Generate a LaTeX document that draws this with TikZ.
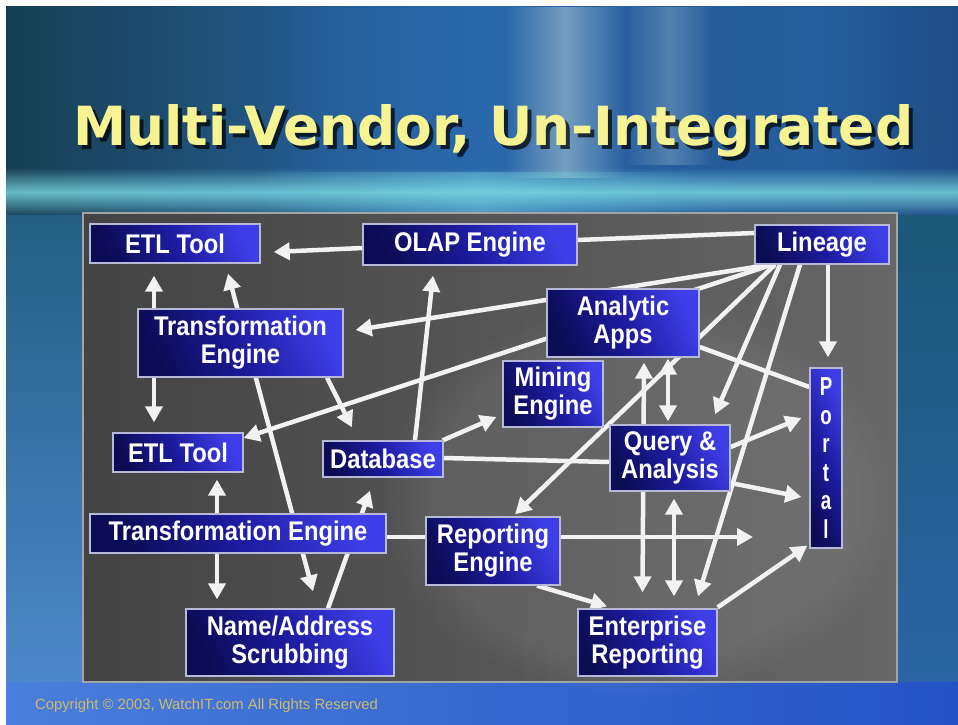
\documentclass[tikz,border=0pt]{standalone}
\usepackage{fontspec}
\usepackage{graphicx}
\setmainfont{Liberation Sans}
\newfontfamily\boxfont{Liberation Sans}[FakeStretch=0.88]
\newfontfamily\portalfont{Liberation Sans}[FakeStretch=0.72]
\newfontfamily\titlefont{DejaVu Sans}
\usetikzlibrary{arrows.meta,calc,fadings}
\tikzfading[name=vstreak, left color=transparent!100, right color=transparent!100, middle color=transparent!0]
\tikzfading[name=hband, top color=transparent!100, bottom color=transparent!100, middle color=transparent!0]
\pgfdeclarelayer{bg}
\pgfdeclarelayer{lines}
\pgfsetlayers{bg,lines,main}
\definecolor{bgBase}{HTML}{245A8A}
\definecolor{tealDark}{HTML}{173F52}
\definecolor{blueMid}{HTML}{2A68AC}
\definecolor{blueRight}{HTML}{1F4E86}
\definecolor{streakC}{HTML}{A8C4D0}
\definecolor{cyanC}{HTML}{7CDCE4}
\definecolor{leftTop}{HTML}{235E82}
\definecolor{leftBot}{HTML}{4E88CC}
\definecolor{rightTop}{HTML}{1C5878}
\definecolor{rightBot}{HTML}{2A64A4}
\definecolor{botL}{HTML}{4A7EDC}
\definecolor{botR}{HTML}{2452C4}
\definecolor{panelL}{HTML}{434343}
\definecolor{panelR}{HTML}{676767}
\definecolor{panelEdge}{HTML}{A4A4A4}
\definecolor{boxHi}{HTML}{3E3EE8}
\definecolor{boxMid}{HTML}{1C1CA0}
\definecolor{boxLo}{HTML}{0C0C56}
\definecolor{boxEdge}{HTML}{B8B8D8}
\definecolor{lineW}{HTML}{F2F2F2}
\definecolor{titleY}{HTML}{F8F392}
\definecolor{copyC}{HTML}{CDBB6E}
\begin{document}
\begin{tikzpicture}[x=1pt,y=-1pt,
  bluebox/.style={draw=boxEdge, line width=1.3pt, top color=boxHi, bottom color=boxLo,
    middle color=boxMid, shading angle=-65, text=white,
    font=\boxfont\bfseries\fontsize{27pt}{28pt}\selectfont, align=center, inner sep=0pt},
  ln/.style={line width=4.5pt, draw=lineW},
  arr/.style={ln, -{Triangle[length=16pt,width=17pt]}},
  dbl/.style={ln, {Triangle[length=16pt,width=17pt]}-{Triangle[length=16pt,width=17pt]}}]
\useasboundingbox (0,0) rectangle (958,725);
\begin{pgfonlayer}{bg}
\fill[white] (0,0) rectangle (958,725);
\fill[bgBase] (6,7) rectangle (958,725);
\shade[left color=tealDark, right color=blueMid] (6,7) rectangle (480,215);
\shade[left color=blueMid, right color=blueRight] (480,7) rectangle (958,215);
\fill[blueMid, opacity=.6, path fading=vstreak] (260,7) rectangle (540,180);
\fill[streakC, opacity=.6, path fading=vstreak] (505,7) rectangle (625,178);
\fill[streakC, opacity=.35, path fading=vstreak] (625,7) rectangle (715,165);
\fill[blueMid, opacity=.5, path fading=vstreak] (700,7) rectangle (930,180);
\fill[cyanC, opacity=.8, path fading=hband] (6,168) rectangle (958,216);
\fill[cyanC, opacity=.35, path fading=vstreak] (250,172) rectangle (700,212);
\shade[top color=leftTop, bottom color=leftBot] (6,215) rectangle (83,682);
\shade[top color=rightTop, bottom color=rightBot] (897,215) rectangle (958,682);
\shade[left color=botL, right color=botR] (6,682) rectangle (958,725);
\shade[left color=panelL, right color=panelR] (83,213) rectangle (897,682);
\fill[white, opacity=.07, path fading=circle with fuzzy edge 20 percent] (380,300) rectangle (900,700);
\draw[panelEdge, line width=1.5pt] (83,213) rectangle (897,682);
\end{pgfonlayer}

\node[anchor=base west, inner sep=0pt, text=black, opacity=.7] (titleS) at (77,149)
  {\resizebox{840pt}{41pt}{\titlefont\bfseries Multi-Vendor, Un-Integrated}};
\node[anchor=base west, inner sep=0pt, text=titleY] (title) at (73,145)
  {\resizebox{840pt}{41pt}{\titlefont\bfseries Multi-Vendor, Un-Integrated}};

\node[bluebox, minimum width=170pt, minimum height=39pt] (etlA) at (175,243.5) {ETL Tool};
\node[bluebox, minimum width=214pt, minimum height=41pt] (olap) at (470,244.5) {OLAP Engine};
\node[bluebox, minimum width=134pt, minimum height=39pt] (lin) at (822,244.5) {Lineage};
\node[bluebox, minimum width=205pt, minimum height=68pt] (transA) at (240.5,343) {Transformation\\Engine};
\node[bluebox, minimum width=152pt, minimum height=68pt] (apps) at (623,323) {Analytic\\Apps};
\node[bluebox, minimum width=100pt, minimum height=66pt] (mine) at (553,394) {Mining\\Engine};
\node[bluebox, font=\portalfont\bfseries\fontsize{26pt}{28.6pt}\selectfont,
  minimum width=32pt, minimum height=180pt] (portal) at (826,458) {P\\o\\r\\t\\a\\l};
\node[bluebox, minimum width=130pt, minimum height=39pt] (etlB) at (178,452.5) {ETL Tool};
\node[bluebox, minimum width=120pt, minimum height=36pt] (db) at (383,459) {Database};
\node[bluebox, minimum width=120pt, minimum height=66pt] (query) at (670,458) {Query \&\\Analysis};
\node[bluebox, minimum width=296pt, minimum height=39pt] (transB) at (238,533.5) {Transformation Engine};
\node[bluebox, minimum width=134pt, minimum height=68pt] (rep) at (493,551) {Reporting\\Engine};
\node[bluebox, minimum width=208pt, minimum height=67pt] (name) at (290,642.5) {Name/Address\\Scrubbing};
\node[bluebox, minimum width=139pt, minimum height=67pt] (ent) at (647.5,642.5) {Enterprise\\Reporting};
\coordinate (tipR) at (753,537);

\node[anchor=base west, inner sep=0pt, text=copyC, font=\fontsize{14.8pt}{16pt}\selectfont] (copy) at (35,709)
  {Copyright © 2003, WatchIT.com All Rights Reserved};

\begin{pgfonlayer}{lines}
\draw[arr] ($(olap.west)+(0,3.5)$) -- ($(etlA.east)+(13,8.5)$);
\draw[ln] ($(olap.east)+(0,-4.5)$) -- ($(lin.west)+(0,-11.5)$);
\draw[arr] ($(transA.north)+(-86.5,0)$) -- ($(etlA.south)+(-21,12)$);
\draw[dbl] ($(etlA.south)+(53,10)$) -- ($(name.north)+(23,-17)$);
\draw[arr] ($(transA.south)+(-86.5,0)$) -- ($(etlB.north)+(-24,-10)$);
\draw[arr] ($(transA.south)+(86.5,0)$) -- ($(db.north)+(-31,-13)$);
\draw[arr] ($(lin.south)+(-52,0)$) -- ($(transA.east)+(12,-13)$);
\draw[arr] ($(lin.south)+(-50,0)$) -- ($(etlB.east)+(0,-14.5)$);
\draw[arr] ($(db.north)+(32,0)$) -- ($(olap.south)+(-37,10)$);
\draw[arr] ($(db.north east)+(-1,0)$) -- ($(mine.west)+(-6,23)$);
\draw[ln] ($(db.east)+(0,-1)$) -- ($(query.west)+(0,4)$);
\draw[arr] ($(name.north)+(38,0)$) -- ($(db.south)+(-13,13)$);
\draw[arr] ($(transB.north)+(-21,0)$) -- ($(etlB.south)+(39,7)$);
\draw[arr] ($(transB.south)+(-21,0)$) -- ($(name.north)+(-73,-9)$);
\draw[arr] ($(transB.east)+(0,3.5)$) -- (tipR);
\draw[arr] ($(rep.south)+(44,0)$) -- ($(ent.north)+(-40.5,-2)$);
\draw[dbl] ($(apps.south)+(21,5)$) -- ($(ent.north)+(-5,-16)$);
\draw[dbl] ($(apps.south)+(45,1)$) -- ($(query.north)+(-2,-3)$);
\draw[dbl] ($(query.south)+(4,7)$) -- ($(ent.north)+(26.5,-12)$);
\draw[arr] ($(lin.south)+(-47,0)$) -- ($(rep.north)+(22,-2)$);
\draw[ln] ($(apps.east)+(0,24)$) -- ($(portal.west)+(0,-71)$);
\draw[arr] ($(lin.south)+(6,0)$) -- ($(portal.north)+(2,-10)$);
\draw[arr] ($(lin.south)+(-42,0)$) -- ($(query.north)+(45,-10)$);
\draw[arr] ($(lin.south)+(-22,0)$) -- ($(ent.north)+(50.5,-12)$);
\draw[arr] ($(query.east)+(0,-11)$) -- ($(portal.west)+(-8,-40)$);
\draw[arr] ($(query.east)+(0,25)$) -- ($(portal.west)+(-8,39)$);
\draw[arr] ($(ent.north east)+(0,-1)$) -- ($(portal.south west)+(-2,-3)$);
\end{pgfonlayer}
\end{tikzpicture}
\end{document}
